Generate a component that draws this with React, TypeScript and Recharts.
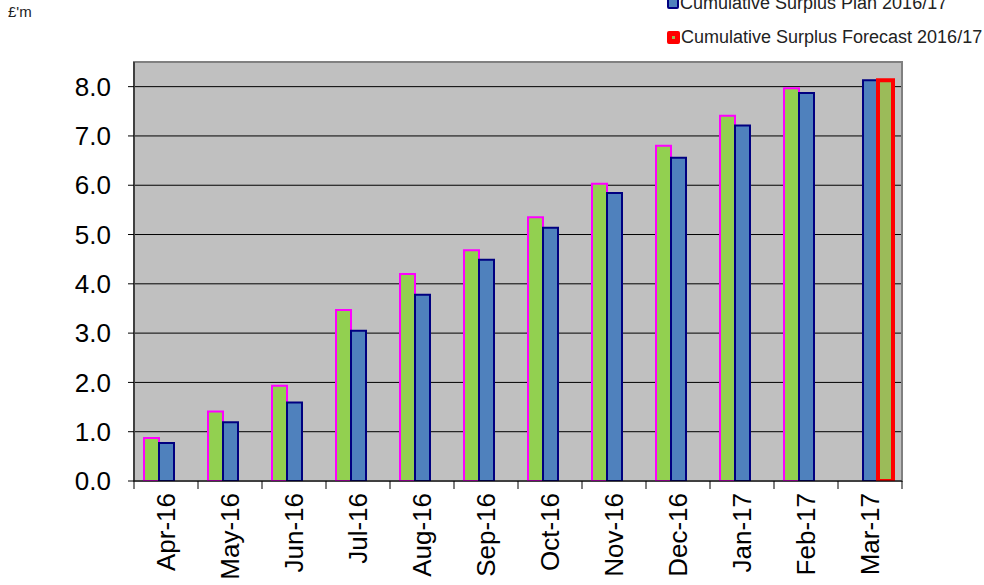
import { BarChart, Bar, XAxis, YAxis, CartesianGrid, ReferenceArea } from "recharts";

const months = ["Apr-16", "May-16", "Jun-16", "Jul-16", "Aug-16", "Sep-16", "Oct-16", "Nov-16", "Dec-16", "Jan-17", "Feb-17", "Mar-17"];
const actual = [0.87, 1.41, 1.93, 3.47, 4.2, 4.68, 5.35, 6.03, 6.8, 7.41, 7.97, null];
const plan = [0.77, 1.19, 1.59, 3.05, 3.78, 4.49, 5.14, 5.84, 6.56, 7.21, 7.87, 8.13];
const forecast = [null, null, null, null, null, null, null, null, null, null, null, 8.13];
const yTicks = [0, 1, 2, 3, 4, 5, 6, 7, 8];

const data = months.map((m, i) => ({
  month: m,
  actual: actual[i],
  plan: plan[i],
  forecast: forecast[i],
}));

const FONT = "'Liberation Sans', Arial, sans-serif";
const W = 984;
const H = 585;
const PLOT_LEFT = 134;
const PLOT_RIGHT = 902;
const PLOT_TOP = 62;
const PLOT_BOTTOM = 481;
const BAND = (PLOT_RIGHT - PLOT_LEFT) / months.length;

function MonthTick(props: any) {
  const { x, payload, index } = props;
  const half = BAND / 2;
  const ty = PLOT_BOTTOM + 12;
  return (
    <g>
      <line x1={x - half} y1={PLOT_BOTTOM} x2={x - half} y2={PLOT_BOTTOM + 8} stroke="#000" />
      {index === months.length - 1 && (
        <line x1={x + half} y1={PLOT_BOTTOM} x2={x + half} y2={PLOT_BOTTOM + 8} stroke="#000" />
      )}
      <text
        x={x}
        y={ty}
        transform={`rotate(-90, ${x}, ${ty})`}
        textAnchor="end"
        dominantBaseline="central"
        fontSize={26}
        fontFamily={FONT}
        fill="#000"
      >
        {payload.value}
      </text>
    </g>
  );
}

function LegendItem({ top, size, fill, stroke, bw, label }: { top: number; size: number; fill: string; stroke: string; bw: number; label: string }) {
  return (
    <div style={{ position: "absolute", left: 667, top, height: 20, display: "flex", alignItems: "center", whiteSpace: "nowrap" }}>
      <span
        style={{
          display: "inline-block",
          width: size - 2 * bw,
          height: size - 2 * bw,
          background: fill,
          border: `${bw}px solid ${stroke}`,
          borderRadius: 2,
          marginRight: 1,
        }}
      />
      <span>{label}</span>
    </div>
  );
}

export default function App() {
  return (
    <div style={{ position: "absolute", left: 0, top: 0, width: W, height: H, background: "#fff", overflow: "hidden" }}>
      <div style={{ position: "absolute", left: 8, top: 3, fontSize: 15, fontFamily: FONT, color: "#222" }}>£'m</div>
      <div style={{ position: "absolute", left: 0, top: 0, fontSize: 18, fontFamily: FONT, color: "#222" }}>
        <LegendItem top={-7} size={12} fill="#4F81BD" stroke="#000080" bw={2} label="Cumulative Surplus Plan 2016/17" />
        <LegendItem top={27} size={13} fill="#9BBB59" stroke="#FF0000" bw={5} label="Cumulative Surplus Forecast 2016/17" />
      </div>
      <BarChart
        width={W}
        height={H}
        data={data}
        margin={{ top: PLOT_TOP, right: W - PLOT_RIGHT, bottom: 0, left: 0 }}
        barCategoryGap={10}
        barGap={0}
      >
        <CartesianGrid vertical={false} stroke="#000" fill="#C0C0C0" fillOpacity={1} />
        <ReferenceArea y1={0} y2={8.5} fill="none" stroke="#808080" strokeWidth={2} ifOverflow="visible" />
        <XAxis
          dataKey="month"
          height={H - PLOT_BOTTOM}
          interval={0}
          tickLine={false}
          axisLine={{ stroke: "#000" }}
          tick={<MonthTick />}
        />
        <YAxis
          width={PLOT_LEFT}
          domain={[0, 8.5]}
          ticks={yTicks}
          tickFormatter={(v: number) => v.toFixed(1)}
          tick={{ fontSize: 26, fontFamily: FONT, fill: "#000" }}
          tickLine={{ stroke: "#000" }}
          tickSize={6}
          tickMargin={17}
          axisLine={{ stroke: "#000" }}
          allowDataOverflow
        />
        <Bar dataKey="actual" fill="#92D050" stroke="#FF00FF" strokeWidth={2} isAnimationActive={false} />
        <Bar dataKey="plan" fill="#4F81BD" stroke="#000080" strokeWidth={2} isAnimationActive={false} />
        <Bar dataKey="forecast" fill="#9BBB59" stroke="#FF0000" strokeWidth={4} isAnimationActive={false} />
      </BarChart>
    </div>
  );
}
